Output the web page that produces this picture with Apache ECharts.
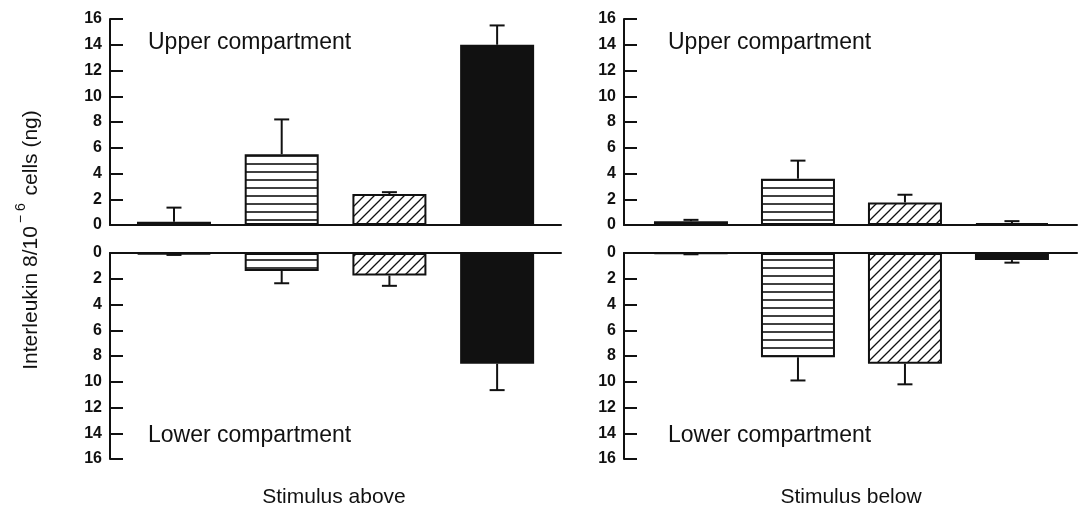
<!DOCTYPE html>
<html>
<head>
<meta charset="utf-8">
<script src="https://cdn.jsdelivr.net/npm/echarts@6/dist/echarts.min.js"></script>
<style>
  html, body { margin: 0; padding: 0; background: #fff; }
  #chart { width: 1084px; height: 508px; }
</style>
</head>
<body>
<div id="chart"></div>
<script>
// Four treatment groups per panel, placed at slots 0..3 on each x axis
const barSlots = [0, 1, 2, 3];

// Interleukin 8 (ng per 10^6 cells): means and error (upper arm only)
const aboveUpper = [0.25, 5.5, 2.4, 14.0];
const aboveUpperErr = [1.1, 2.7, 0.15, 1.5];
const aboveLower = [0.1, 1.4, 1.75, 8.6];
const aboveLowerErr = [0.05, 0.95, 0.8, 2.05];

const belowUpper = [0.3, 3.6, 1.75, 0.15];
const belowUpperErr = [0.1, 1.4, 0.6, 0.15];
const belowLower = [0.05, 8.1, 8.6, 0.55];
const belowLowerErr = [0.05, 1.8, 1.6, 0.2];

// Axis ticks
const yTickMin = 0;
const yTickMax = 16;
const yTickStep = 2;

const panelTitles = ['Stimulus above', 'Stimulus below'];
const compartmentLabels = ['Upper compartment', 'Lower compartment'];

const INK = '#111';
const FONT = '"Liberation Sans", Arial, Helvetica, sans-serif';

// Fill patterns: horizontal stripes and diagonal hatching
function stripeCanvas() {
  const c = document.createElement('canvas');
  c.width = 8; c.height = 8;
  const g = c.getContext('2d');
  g.fillStyle = '#fff'; g.fillRect(0, 0, 8, 8);
  g.strokeStyle = INK; g.lineWidth = 1.6;
  g.beginPath(); g.moveTo(0, 4); g.lineTo(8, 4); g.stroke();
  return c;
}
function hatchCanvas() {
  const s = 10;
  const c = document.createElement('canvas');
  c.width = s; c.height = s;
  const g = c.getContext('2d');
  g.fillStyle = '#fff'; g.fillRect(0, 0, s, s);
  g.strokeStyle = INK; g.lineWidth = 1.3;
  g.beginPath();
  g.moveTo(-1, s + 1); g.lineTo(s + 1, -1);
  g.moveTo(-s / 2 - 1, s / 2 + 1); g.lineTo(s / 2 + 1, -s / 2 - 1);
  g.moveTo(s / 2 - 1, s * 1.5 + 1); g.lineTo(s * 1.5 + 1, s / 2 - 1);
  g.stroke();
  return c;
}
const groupFills = [
  '#fff',
  { image: stripeCanvas(), repeat: 'repeat' },
  { image: hatchCanvas(), repeat: 'repeat' },
  INK
];

// Panel geometry: grid placement and x range around the four slots
const panels = [
  { left: 110, width: 451, xMin: -0.594, xMax: 3.593 },
  { left: 624, width: 453, xMin: -0.626, xMax: 3.608 }
];
const rows = [
  { top: 19, height: 206, inverse: false },
  { top: 253, height: 206, inverse: true }
];

const seriesData = [
  [[aboveUpper, aboveUpperErr], [aboveLower, aboveLowerErr]],
  [[belowUpper, belowUpperErr], [belowLower, belowLowerErr]]
];

const grids = [], xAxes = [], yAxes = [], series = [];
panels.forEach((p, pi) => {
  rows.forEach((r, ri) => {
    const idx = grids.length;
    grids.push({ left: p.left, width: p.width, top: r.top, height: r.height, containLabel: false });
    xAxes.push({
      gridIndex: idx, type: 'value', min: p.xMin, max: p.xMax,
      position: r.inverse ? 'top' : 'bottom',
      axisLine: { show: true, onZero: false, lineStyle: { color: INK, width: 2 } },
      axisTick: { show: false }, axisLabel: { show: false }, splitLine: { show: false }
    });
    yAxes.push({
      gridIndex: idx, type: 'value', min: yTickMin, max: yTickMax, interval: yTickStep,
      inverse: r.inverse, position: 'left',
      axisLine: { show: true, onZero: false, lineStyle: { color: INK, width: 2 } },
      axisTick: { show: true, inside: true, length: 13, lineStyle: { color: INK, width: 2 } },
      axisLabel: { color: INK, fontSize: 16, fontWeight: 'bold', fontFamily: FONT, margin: 8 },
      splitLine: { show: false }
    });
    const [vals, errs] = seriesData[pi][ri];
    series.push({
      type: 'bar', xAxisIndex: idx, yAxisIndex: idx, barWidth: 74,
      data: barSlots.map((s, i) => ({
        value: [s, vals[i]],
        itemStyle: { color: groupFills[i], borderColor: INK, borderWidth: 2 }
      })),
      silent: true, animation: false, z: 2
    });
    series.push({
      type: 'custom', xAxisIndex: idx, yAxisIndex: idx,
      data: barSlots.map((s, i) => [s, vals[i], vals[i] + errs[i]]),
      renderItem: function (params, api) {
        const a = api.coord([api.value(0), api.value(1)]);
        const b = api.coord([api.value(0), api.value(2)]);
        const cap = 7.5;
        return {
          type: 'group',
          children: [
            { type: 'line', shape: { x1: a[0], y1: a[1], x2: b[0], y2: b[1] },
              style: { stroke: INK, lineWidth: 2 } },
            { type: 'line', shape: { x1: b[0] - cap, y1: b[1], x2: b[0] + cap, y2: b[1] },
              style: { stroke: INK, lineWidth: 2 } }
          ]
        };
      },
      silent: true, animation: false, z: 3
    });
  });
});

const textStyle = (t, size) => ({ text: t, fill: INK, font: size + 'px ' + FONT });
const graphic = [
  { type: 'text', left: 148, top: 31, style: textStyle(compartmentLabels[0], 23) },
  { type: 'text', left: 148, top: 424, style: textStyle(compartmentLabels[1], 23) },
  { type: 'text', left: 668, top: 31, style: textStyle(compartmentLabels[0], 23) },
  { type: 'text', left: 668, top: 424, style: textStyle(compartmentLabels[1], 23) },
  { type: 'text', x: 334, y: 497, style: Object.assign(textStyle(panelTitles[0], 21), { align: 'center', verticalAlign: 'middle' }) },
  { type: 'text', x: 851, y: 497, style: Object.assign(textStyle(panelTitles[1], 21), { align: 'center', verticalAlign: 'middle' }) },
  {
    type: 'text', x: 28, y: 240, rotation: Math.PI / 2,
    style: {
      text: '{a|Interleukin 8/10}{s|− 6}{a| cells (ng)}',
      align: 'center', verticalAlign: 'middle', fill: INK,
      rich: {
        a: { fontSize: 21, fontFamily: FONT, fill: INK, lineHeight: 27, verticalAlign: 'bottom' },
        s: { fontSize: 14, fontFamily: FONT, fill: INK, lineHeight: 27, verticalAlign: 'top', padding: [0, 2, 0, 3] }
      }
    }
  }
];

const chart = echarts.init(document.getElementById('chart'), null, { renderer: 'canvas' });
chart.setOption({
  backgroundColor: '#fff',
  animation: false,
  grid: grids, xAxis: xAxes, yAxis: yAxes, series: series, graphic: graphic
});
</script>
</body>
</html>
